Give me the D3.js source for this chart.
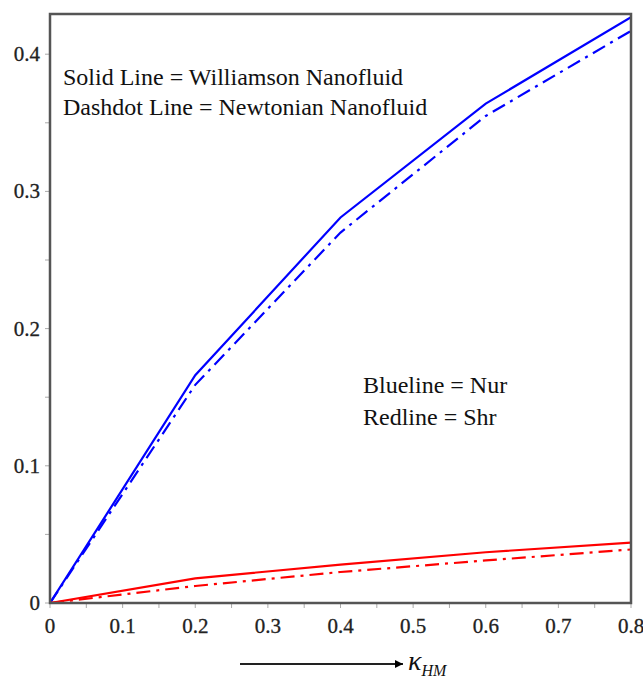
<!DOCTYPE html>
<html><head><meta charset="utf-8">
<script src="https://cdn.jsdelivr.net/npm/d3@7"></script>
<style>body{margin:0;background:#fff;} svg{display:block;}</style>
</head><body>
<script>
const xValues = [0, 0.2, 0.4, 0.6, 0.8];
const nurWilliamson = [0, 0.166, 0.281, 0.364, 0.427];
const nurNewtonian = [0, 0.159, 0.270, 0.355, 0.417];
const shrWilliamson = [0, 0.018, 0.028, 0.037, 0.044];
const shrNewtonian = [0, 0.0124, 0.0226, 0.031, 0.039];
const xTicks = [0, 0.1, 0.2, 0.3, 0.4, 0.5, 0.6, 0.7, 0.8];
const yTicks = [0, 0.1, 0.2, 0.3, 0.4];

(function () {
const W = 643, H = 679;
const svg = d3.select("body").append("svg").attr("width", W).attr("height", H);
const x = d3.scaleLinear().domain([0, 0.8]).range([50, 631]);
const y = d3.scaleLinear().domain([0, 0.4]).range([603, 54.2]);
const plotTop = 14;
const font = "'Liberation Serif', 'Times New Roman', serif";

// minor ticks
const xMinor = d3.range(0, 0.8001, 0.05);
const yMinor = d3.range(0, 0.42, 0.05);
svg.append("g").selectAll("line").data(xMinor).join("line")
  .attr("x1", d => x(d)).attr("x2", d => x(d)).attr("y1", 603).attr("y2", 608)
  .attr("stroke", "#aaa").attr("stroke-width", 1);
svg.append("g").selectAll("line").data(yMinor).join("line")
  .attr("y1", d => y(d)).attr("y2", d => y(d)).attr("x1", 45).attr("x2", 50)
  .attr("stroke", "#aaa").attr("stroke-width", 1);

// tick labels
svg.append("g").selectAll("text").data(xTicks).join("text")
  .attr("x", d => x(d)).attr("y", 633).attr("text-anchor", "middle")
  .attr("font-family", font).attr("font-size", 21).attr("fill", "#222")
  .attr("stroke", "#222").attr("stroke-width", 0.3)
  .text(d => d === 0 ? "0" : d3.format(".1f")(d));
svg.append("g").selectAll("text").data(yTicks).join("text")
  .attr("x", 40).attr("y", d => y(d)).attr("dy", "0.33em").attr("text-anchor", "end")
  .attr("font-family", font).attr("font-size", 21).attr("fill", "#222")
  .attr("stroke", "#222").attr("stroke-width", 0.3)
  .text(d => d === 0 ? "0" : d3.format(".1f")(d));

// lines
const line = d3.line().x((d, i) => x(xValues[i])).y(d => y(d));
const series = [
  {v: nurWilliamson, c: "#0000ff", dash: null},
  {v: nurNewtonian, c: "#0000ff", dash: "14,6,3,6"},
  {v: shrWilliamson, c: "#ff0000", dash: null},
  {v: shrNewtonian, c: "#ff0000", dash: "14,6,3,6"}
];
svg.append("defs").append("clipPath").attr("id", "clip").append("rect")
  .attr("x", 50).attr("y", plotTop).attr("width", 581).attr("height", 603 - plotTop);
svg.append("g").attr("clip-path", "url(#clip)").selectAll("path").data(series).join("path")
  .attr("d", d => line(d.v)).attr("fill", "none").attr("stroke", d => d.c)
  .attr("stroke-width", 2.2).attr("stroke-dasharray", d => d.dash);

// frame
svg.append("rect").attr("x", 50).attr("y", plotTop).attr("width", 581).attr("height", 603 - plotTop)
  .attr("fill", "none").attr("stroke", "#555").attr("stroke-width", 2.5);

// annotations
const ann = [
  {t: "Solid Line = Williamson Nanofluid", x: 63, y: 85},
  {t: "Dashdot Line = Newtonian Nanofluid", x: 63, y: 115},
  {t: "Blueline = Nur", x: 363, y: 393},
  {t: "Redline = Shr", x: 363, y: 425}
];
svg.append("g").selectAll("text").data(ann).join("text")
  .attr("x", d => d.x).attr("y", d => d.y)
  .attr("font-family", font).attr("font-size", 24).attr("fill", "#111")
  .text(d => d.t);

// x-axis label with arrow
svg.append("defs").append("marker").attr("id", "arr").attr("viewBox", "0 0 10 10")
  .attr("refX", 10).attr("refY", 5).attr("markerWidth", 4).attr("markerHeight", 4)
  .attr("orient", "auto").append("path").attr("d", "M0,0L10,5L0,10z").attr("fill", "#000");
svg.append("line").attr("x1", 240).attr("x2", 403).attr("y1", 664).attr("y2", 664)
  .attr("stroke", "#222").attr("stroke-width", 2).attr("marker-end", "url(#arr)");
const lab = svg.append("text").attr("x", 408).attr("y", 670)
  .attr("font-family", font).attr("font-size", 28).attr("font-style", "italic").attr("fill", "#111");
lab.append("tspan").text("κ");
lab.append("tspan").attr("dy", 6).attr("font-size", 16).text("HM");
})();
</script>
</body></html>
